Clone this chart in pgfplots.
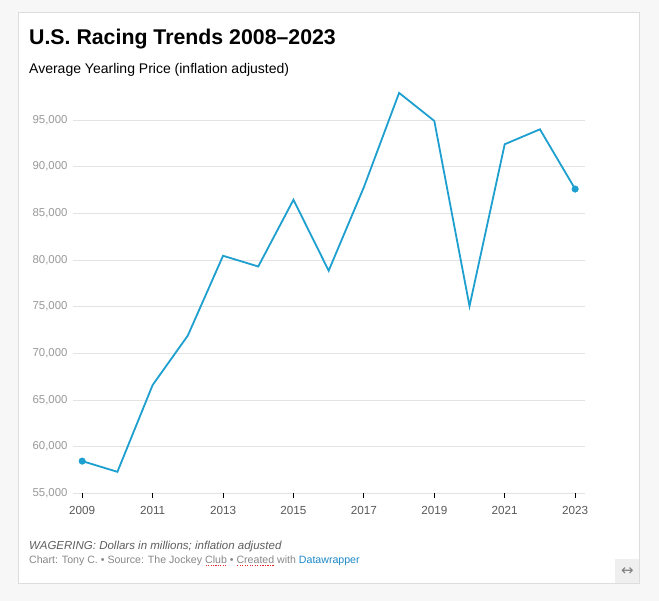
\documentclass[border=0pt]{standalone}
\usepackage{pgfplots}
\pgfplotsset{compat=1.18}
\usepackage{fontspec}
\setmainfont{Liberation Sans}
\newfontfamily\symfont{DejaVu Sans}
\definecolor{bgout}{HTML}{F7F7F7}
\definecolor{cardborder}{HTML}{DDDDDD}
\definecolor{linecol}{HTML}{1D9FCF}
\definecolor{gridcol}{HTML}{E3E3E3}
\definecolor{ylab}{HTML}{999999}
\definecolor{xlab}{HTML}{5A5A5A}
\definecolor{foot1}{HTML}{5E5E5E}
\definecolor{foot2}{HTML}{888888}
\definecolor{dwblue}{HTML}{1C88C7}
\definecolor{iconbg}{HTML}{EFEFEF}
\definecolor{icon}{HTML}{808080}
\definecolor{spell}{HTML}{E8262A}
\newcommand\redul[1]{\setbox0\hbox{#1}\rlap{\raisebox{-3pt}{\hbox to \wd0{\xleaders\hbox to 2.4pt{\hss\textcolor{spell}{\rule{1.2pt}{1.2pt}}\hss}\hfill}}}\box0\relax}
\begin{document}
\begin{tikzpicture}[x=1pt,y=-1pt]
\fill[bgout] (0,0) rectangle (659,601);
\filldraw[fill=white,draw=cardborder,line width=0.8pt] (18,12.7) rectangle (639.3,583.3);
\node[anchor=base west,inner sep=0pt,font=\bfseries\fontsize{21.3}{24}\selectfont] at (29,44.5) {U.S. Racing Trends 2008–2023};
\node[anchor=base west,inner sep=0pt,font=\fontsize{14}{16}\selectfont] at (29,74) {Average Yearling Price (inflation adjusted)};
\begin{axis}[
  at={(72.7pt,-493.3pt)}, anchor=south west,
  scale only axis, width=512.3pt, height=406pt,
  xmin=2008.73, xmax=2023.28, ymin=55000, ymax=98500,
  axis line style={draw=none},
  xtick={2009,2011,...,2023},
  ytick={55000,60000,...,95000},
  scaled y ticks=false, scaled x ticks=false,
  ymajorgrids, grid style={gridcol,line width=0.9pt},
  tick align=outside, major tick length=5pt,
  xtick style={black,line width=0.8pt},
  ytick style={draw=none},
  xtick pos=bottom, ytick pos=left,
  /pgf/number format/assume math mode=true,
  xticklabel style={font=\fontsize{11.7}{13}\selectfont,text=xlab,inner sep=0pt,anchor=north,yshift=-8pt},
  yticklabel style={font=\fontsize{11.4}{13}\selectfont,text=ylab,inner sep=0pt,anchor=east},
  xticklabel={\pgfmathprintnumber[1000 sep={}]{\tick}},
  yticklabel={\pgfmathprintnumber[1000 sep={,}]{\tick}},
  clip=false,
]
\addplot[linecol,line width=1.8pt,line join=miter] coordinates {
(2009,58450) (2010,57300) (2011,66600) (2012,71900) (2013,80450)
(2014,79300) (2015,86450) (2016,78850) (2017,87800) (2018,97900)
(2019,94900) (2020,75050) (2021,92400) (2022,94000) (2023,87600)};
\addplot[only marks,mark=*,mark size=3.3pt,color=linecol] coordinates {(2009,58450) (2023,87600)};
\end{axis}
\node[anchor=base west,inner sep=0pt,text=foot1,font=\itshape\fontsize{11.5}{13}\selectfont] at (29,549.5) {WAGERING: Dollars in millions; inflation adjusted};
\node[anchor=base west,inner sep=0pt,text=foot2,font=\fontsize{10.6}{13}\selectfont] at (29,563) {Chart: Tony C. • Source: The Jockey \redul{Club} • \redul{Created} with \textcolor{dwblue}{Datawrapper}};
\fill[iconbg] (615,559) rectangle (638.9,582.9);
\node[inner sep=0pt,text=icon,font=\symfont\fontsize{15}{16}\selectfont] at (627.3,571.5) {↔};
\end{tikzpicture}
\end{document}
